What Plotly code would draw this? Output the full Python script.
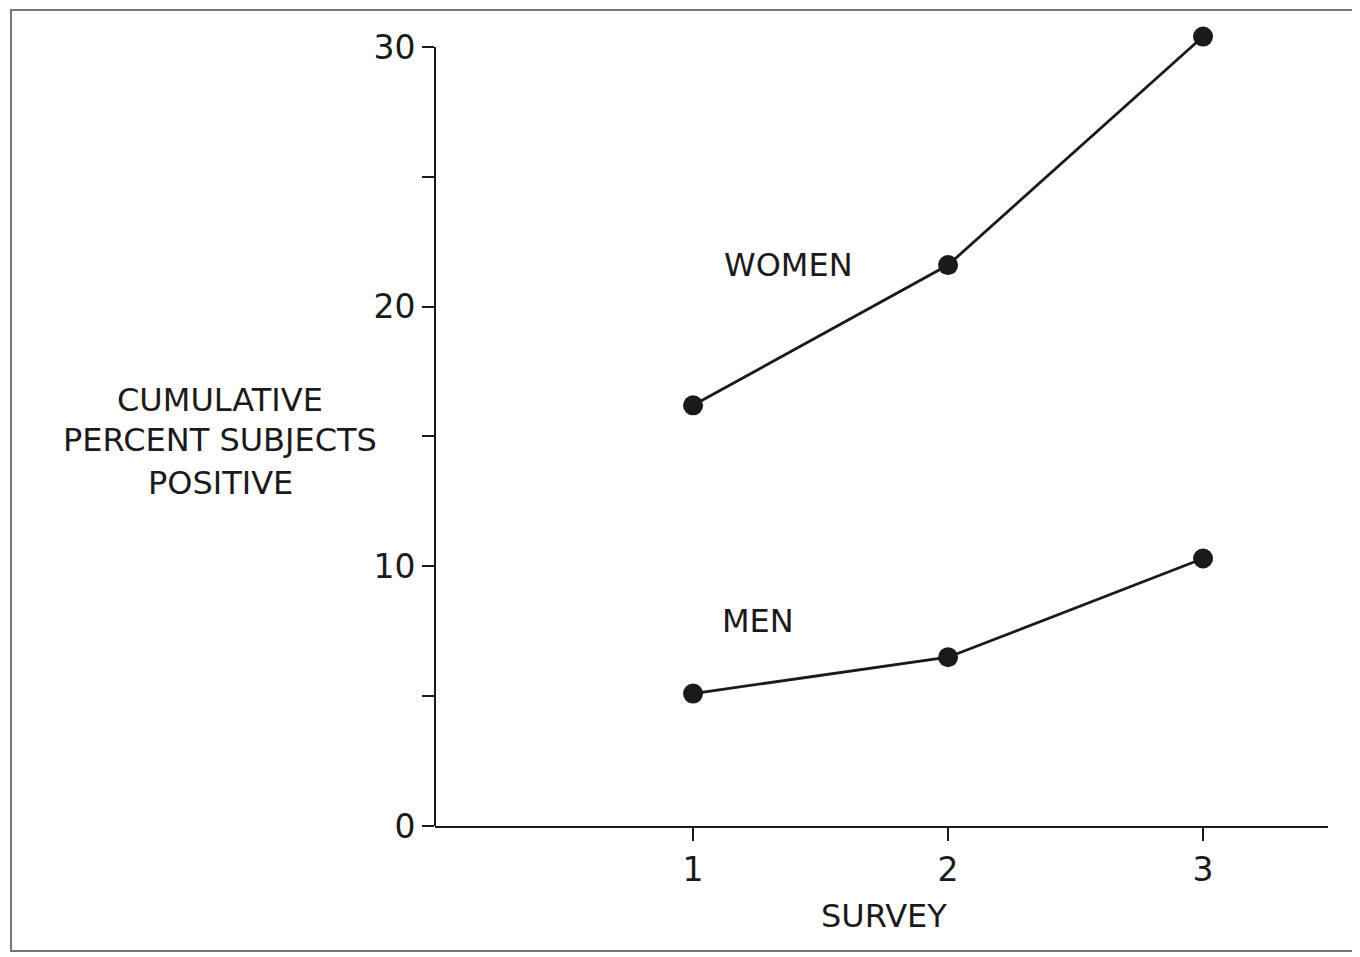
import plotly.graph_objects as go

survey = [1, 2, 3]
women = [16.2, 21.6, 30.4]
men = [5.1, 6.5, 10.3]
y_ticks = [0, 10, 20, 30]
x_ticks = [1, 2, 3]

FONT = "DejaVu Sans"
INK = "#1a1a1a"

# the page body adds an 8px offset; work in screen pixels and convert
OFF = 8
L, R, B = 435, 1328, 826          # screen px of plot area
UNIT = 25.97                      # px per y unit
Y_TOP = 31
T = B - Y_TOP * UNIT
W, H = 1360 - OFF, 957 - OFF


def px(xs):
    return (xs - L) / (R - L)


def py(ys):
    return (B - ys) / (B - T)


fig = go.Figure()
for vals in (women, men):
    fig.add_trace(go.Scatter(
        x=survey, y=vals, mode="lines+markers",
        line=dict(color=INK, width=2.8),
        marker=dict(size=20, color=INK),
        cliponaxis=False, showlegend=False, hoverinfo="x+y"))

fig.update_layout(
    width=W, height=H,
    margin=dict(l=L - OFF, r=W - (R - OFF), t=T - OFF, b=H - (B - OFF), pad=0),
    paper_bgcolor="white", plot_bgcolor="white",
    font=dict(family=FONT, color=INK),
    xaxis=dict(range=[-0.012, 3.49], tickvals=x_ticks, ticktext=[str(v) for v in x_ticks],
               showline=True, linecolor=INK, linewidth=2, showgrid=False, zeroline=False,
               ticks="outside", ticklen=13, tickwidth=2, tickcolor=INK,
               tickfont=dict(size=33, family=FONT, color=INK)),
    yaxis=dict(range=[0, Y_TOP], tickvals=y_ticks, ticktext=[str(v) for v in y_ticks],
               showline=False, showgrid=False, zeroline=False,
               ticks="outside", ticklen=12, tickwidth=2, tickcolor=INK,
               minor=dict(tickvals=[5, 15, 25], ticks="outside", ticklen=12, tickwidth=2, tickcolor=INK),
               tickfont=dict(size=33, family=FONT, color=INK)),
)

# y axis line only up to 30
fig.add_shape(type="line", xref="paper", yref="y", x0=0, x1=0, y0=0, y1=30,
              line=dict(color=INK, width=2))

ann_font = dict(size=32, family=FONT, color=INK)
fig.add_annotation(x=px(788), y=py(265), xref="paper", yref="paper", text="WOMEN", showarrow=False,
                   font=ann_font, xanchor="center", yanchor="middle")
fig.add_annotation(x=px(758), y=py(621), xref="paper", yref="paper", text="MEN", showarrow=False,
                   font=ann_font, xanchor="center", yanchor="middle")
for txt, ys in (("CUMULATIVE", 400), ("PERCENT SUBJECTS", 440), ("POSITIVE", 483)):
    fig.add_annotation(x=px(220), y=py(ys), xref="paper", yref="paper",
                       text=txt, showarrow=False, font=ann_font,
                       xanchor="center", yanchor="middle")
fig.add_annotation(x=px(884), y=py(916), xref="paper", yref="paper",
                   text="SURVEY", showarrow=False, font=ann_font,
                   xanchor="center", yanchor="middle")

# outer frame of the figure
fig.add_shape(type="rect", xref="paper", yref="paper",
              x0=px(11), x1=px(1356), y0=py(951), y1=py(10),
              line=dict(color="#777777", width=2))

fig.write_html("out.html")
